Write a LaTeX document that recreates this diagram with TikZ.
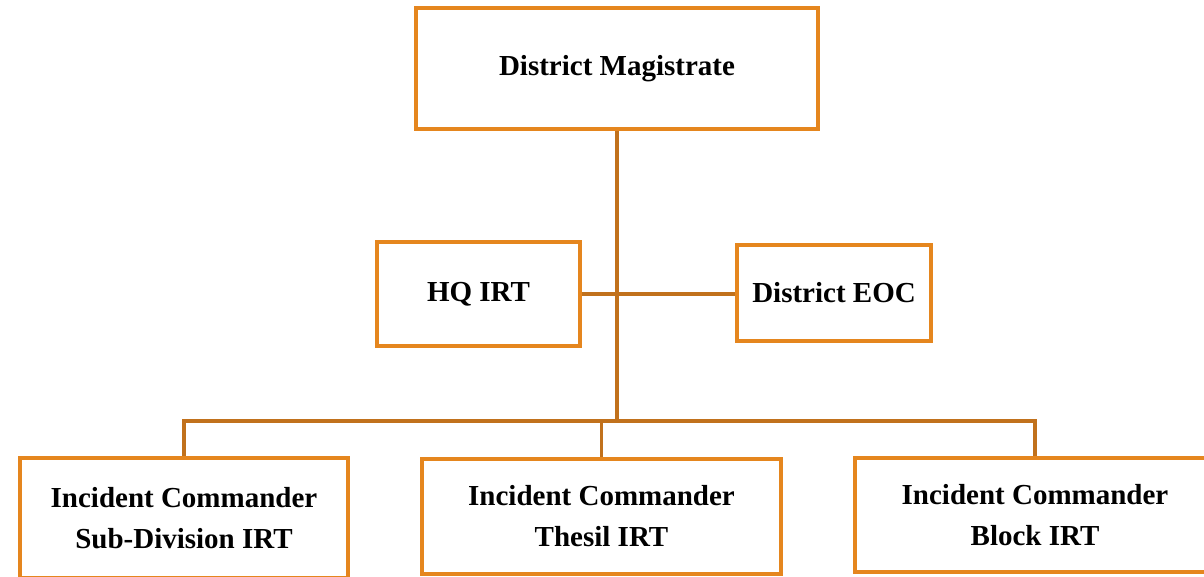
\documentclass[tikz,border=0pt]{standalone}
\usepackage{fontspec}
\setmainfont{Liberation Serif}
\definecolor{boxorange}{RGB}{229,134,30}
\definecolor{linebrown}{RGB}{193,113,28}
\begin{document}
\begin{tikzpicture}[x=1pt,y=-1pt,
  orgbox/.style={draw=boxorange,line width=3.2pt,fill=white,inner sep=0pt,
    align=center,font=\fontsize{29}{41}\selectfont\bfseries},
  conn/.style={draw=linebrown,line width=3.2pt}]
\useasboundingbox (0,0) rectangle (1204,576);
\clip (0,0) rectangle (1204,576);
\node[orgbox,minimum width=402pt,minimum height=121pt] (dm) at (617,68.5) {District Magistrate};
\node[orgbox,minimum width=203pt,minimum height=104pt] (hq) at (478.5,294) {HQ IRT};
\node[orgbox,minimum width=194pt,minimum height=96pt] (eoc) at (834,293) {District EOC};
\node[orgbox,minimum width=328pt,minimum height=120pt] (sd) at (184,518) {Incident Commander\\Sub-Division IRT};
\node[orgbox,minimum width=359pt,minimum height=115pt] (th) at (601.5,516.5) {Incident Commander\\Thesil IRT};
\node[orgbox,minimum width=360pt,minimum height=114pt] (bl) at (1035,515) {Incident Commander\\Block IRT};
\coordinate (j) at (617,421);
\coordinate (m) at (617,294);
\draw[conn] (dm.south) -- (j);
\draw[conn] (hq.east |- m) -- (eoc.west |- m);
\draw[conn] (sd.north) |- (j) -| (bl.north);
\draw[conn] (th.north) -- (th.north |- j);
\end{tikzpicture}
\end{document}
